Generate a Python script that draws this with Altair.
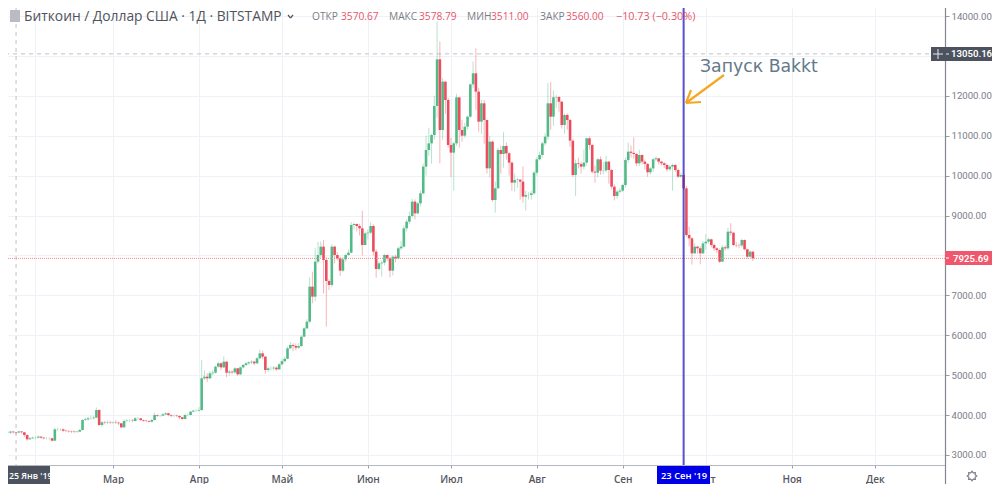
import math
import altair as alt
import pandas as pd

# ---------- values (day number in 2019, 0 = 1 Jan) ----------
first_day = 21
closes = [
    3559, 3584, 3570, 3560, 3585, 3567, 3500, 3392, 3417, 3433,
    3433, 3458, 3433, 3417, 3417, 3417, 3358, 3642, 3642, 3642,
    3609, 3600, 3592, 3584, 3575, 3584, 3625, 3876, 3892, 3918,
    3918, 3935, 4127, 3751, 3817, 3809, 3817, 3809, 3817, 3809,
    3793, 3692, 3851, 3859, 3859, 3851, 3918, 3918, 3876, 3859,
    3851, 3834, 3876, 4001, 3985, 3985, 4018, 4043, 4001, 3985,
    3985, 3976, 3943, 3901, 4001, 4001, 4085, 4110, 4110, 4127,
    4920, 4961, 4920, 5045, 5062, 5212, 5296, 5195, 5337, 5062,
    5087, 5070, 5170, 5020, 5195, 5254, 5296, 5321, 5337, 5296,
    5421, 5546, 5463, 5129, 5170, 5170, 5187, 5145, 5271, 5350,
    5410, 5672, 5755, 5730, 5689, 5730, 5964, 6173, 6340, 7217,
    6967, 7844, 8011, 8220, 7885, 7359, 7259, 8220, 8011, 7927,
    7618, 7902, 8011, 8069, 8762, 8788, 8737, 8679, 8261, 8554,
    8570, 8737, 8094, 7660, 7802, 7819, 8011, 7927, 7618, 7969,
    7927, 8178, 8220, 8679, 8846, 8988, 9348, 9055, 9306, 9556,
    10225, 10642, 10809, 11018, 11745, 12914, 11143, 12355, 11895, 10768,
    10576, 10809, 11962, 11143, 11001, 11227, 11478, 12288, 12564, 12104,
    11352, 11812, 11394, 10183, 10851, 9389, 9682, 10642, 10542, 10743,
    10559, 10325, 9824, 9891, 9900, 9850, 9473, 9515, 9515, 9556,
    10074, 10408, 10517, 10809, 10976, 11812, 11478, 11962, 11970, 11852,
    11269, 11519, 11394, 10876, 10016, 10308, 10290, 10225, 10325, 10935,
    10768, 10099, 10075, 10408, 10125, 10130, 10350, 10141, 9723, 9490,
    9598, 9623, 9765, 10392, 10600, 10570, 10542, 10308, 10517, 10350,
    10292, 10083, 10180, 10408, 10433, 10350, 10308, 10266, 10158, 10225,
    10266, 10141, 9974, 10016, 9682, 8512, 8428, 8052, 8220, 8180,
    8052, 8303, 8345, 8403, 8261, 8178, 8136, 7844, 8203, 8178,
    8595, 8570, 8261, 8255, 8250, 8386, 8153, 7969, 8093, 7926,
]
highs = [
    3620, 3610, 3600, 3579, 3610, 3600, 3570, 3510, 3450, 3460,
    3470, 3490, 3470, 3445, 3450, 3440, 3430, 3680, 3680, 3670,
    3660, 3630, 3620, 3610, 3610, 3610, 3650, 3900, 3940, 3960,
    3980, 3980, 4190, 4150, 3850, 3850, 3860, 3860, 3840, 3870,
    3830, 3800, 3890, 3900, 3900, 3900, 3950, 3950, 3920, 3890,
    3880, 3870, 3900, 4060, 4020, 4010, 4050, 4070, 4060, 4020,
    4010, 4010, 3990, 3950, 4030, 4040, 4100, 4130, 4150, 4200,
    5380, 5120, 5050, 5100, 5130, 5240, 5340, 5320, 5470, 5350,
    5130, 5120, 5200, 5180, 5220, 5280, 5330, 5350, 5370, 5360,
    5450, 5640, 5610, 5480, 5210, 5220, 5230, 5220, 5300, 5400,
    5460, 5720, 5830, 5800, 5790, 5800, 6000, 6200, 6400, 7450,
    7590, 8180, 8340, 8350, 8390, 7950, 7400, 8280, 8250, 8080,
    7970, 7960, 8050, 8150, 8830, 8820, 8800, 8790, 9120, 8600,
    8650, 8830, 8780, 8150, 7850, 7870, 8040, 8030, 7960, 8000,
    8020, 8220, 8360, 8750, 8900, 9100, 9420, 9400, 9340, 9620,
    10300, 11000, 11200, 11050, 12000, 13860, 13360, 12450, 12360, 11950,
    10950, 10850, 12050, 11950, 11400, 11320, 11500, 12300, 12860, 13190,
    12200, 11900, 11900, 11400, 11000, 10880, 9850, 10700, 10750, 11090,
    10830, 10600, 10350, 10050, 9950, 9900, 10230, 9620, 9580, 9620,
    10120, 10460, 10600, 10850, 11060, 12320, 12340, 12130, 12020, 11990,
    11870, 11560, 11560, 11420, 10900, 10400, 10450, 10350, 10650, 10960,
    10980, 10800, 10250, 10450, 10480, 10340, 10500, 10370, 10160, 9780,
    9640, 9680, 9800, 10450, 10830, 10750, 10960, 10560, 10650, 10530,
    10400, 10320, 10220, 10440, 10480, 10440, 10370, 10340, 10300, 10260,
    10300, 10300, 10180, 10070, 10060, 9740, 8720, 8460, 8300, 8240,
    8240, 8360, 8530, 8450, 8420, 8300, 8200, 8170, 8260, 8250,
    8690, 8810, 8580, 8330, 8300, 8420, 8400, 8170, 8130, 8110,
]
lows = [
    3520, 3530, 3530, 3511, 3540, 3530, 3440, 3360, 3380, 3400,
    3390, 3420, 3410, 3390, 3390, 3380, 3340, 3350, 3600, 3600,
    3570, 3570, 3560, 3550, 3550, 3550, 3570, 3610, 3850, 3860,
    3880, 3890, 3920, 3720, 3700, 3770, 3770, 3780, 3780, 3780,
    3750, 3670, 3680, 3820, 3820, 3820, 3840, 3880, 3850, 3830,
    3820, 3810, 3820, 3860, 3950, 3950, 3970, 4000, 3970, 3950,
    3950, 3940, 3900, 3870, 3890, 3970, 3990, 4070, 4080, 4090,
    4100, 4880, 4830, 4900, 5000, 5040, 5190, 5130, 5180, 4950,
    4990, 5020, 5040, 4980, 5000, 5170, 5230, 5260, 5280, 5250,
    5270, 5400, 5400, 5040, 5080, 5120, 5120, 5110, 5130, 5240,
    5320, 5400, 5650, 5600, 5620, 5660, 5700, 5950, 6150, 6300,
    6800, 6850, 7800, 7950, 7050, 6215, 7130, 7200, 7800, 7870,
    7485, 7580, 7840, 7990, 8050, 8650, 8600, 8500, 8000, 8250,
    8400, 8530, 8000, 7440, 7620, 7470, 7750, 7860, 7450, 7500,
    7830, 7900, 8130, 8200, 8600, 8780, 8950, 8900, 9030, 9230,
    9530, 10000, 10500, 10300, 10900, 11450, 10310, 10900, 11550, 10700,
    9960, 9620, 10750, 10700, 10850, 10950, 11150, 11450, 12200, 11650,
    11100, 11050, 10800, 10050, 9950, 9350, 9072, 9660, 10050, 10200,
    10400, 10000, 9620, 9600, 9700, 9400, 9320, 9122, 9400, 9400,
    9520, 10000, 10380, 10450, 10750, 10900, 11150, 11250, 11700, 11600,
    11180, 11050, 11150, 10720, 9960, 9490, 10180, 10050, 10150, 10250,
    10650, 10050, 9820, 9950, 10020, 10030, 10080, 9800, 9650, 9380,
    9420, 9560, 9590, 9700, 10320, 10450, 10430, 10240, 10240, 10280,
    10150, 9970, 10020, 10100, 10360, 10280, 10250, 10190, 10100, 10120,
    9623, 10090, 9940, 9950, 9620, 8470, 8230, 7770, 8030, 8040,
    7780, 8040, 8140, 8290, 8200, 8110, 8060, 7810, 7830, 8120,
    8140, 8500, 8230, 8200, 8190, 8200, 8130, 7920, 7950, 7860,
]
first_open = 3550

month_days = [31, 59, 90, 120, 151, 181, 212, 243, 273, 304, 334]
month_names = ["", "Мар", "Апр", "Май", "Июн", "Июл", "Авг", "Сен", "Окт", "Ноя", "Дек"]
price_ticks = [3000, 4000, 5000, 6000, 7000, 8000, 9000, 10000, 11000, 12000, 13000, 14000]

cursor_day = 24
cursor_price = 13050.16
last_price = 7925.69
launch_day = 265

assert len(closes) == len(highs) == len(lows)

days = list(range(first_day, first_day + len(closes)))
opens = [first_open] + closes[:-1]
df = pd.DataFrame({"d": days, "o": opens, "c": closes, "h": highs, "l": lows})
df["up"] = df["c"] >= df["o"]

GREEN, RED = "#53b987", "#eb4d5c"
FONT = "Open Sans"
PW, PH = 937, 457
xs = alt.Scale(domain=[21.09, 359.36], nice=False, zero=False, padding=0)
ys = alt.Scale(domain=[2748, 14200.5], nice=False, zero=False)
color = alt.Color("up:N", scale=alt.Scale(domain=[True, False], range=[GREEN, RED]), legend=None)

label_map = "{" + ",".join(f"{d}:'{n}'" for d, n in zip(month_days, month_names)) + "}"
x_axis = alt.Axis(values=month_days, labelExpr=label_map + "[datum.value]", title=None, grid=True,
                  gridColor="#eef2f7", domain=False, tickColor="#9a9da6", tickSize=3, labelFont=FONT,
                  labelFontSize=10, labelColor="#55585f", labelPadding=6, labelFontWeight=600)
y_axis = alt.Axis(values=price_ticks, orient="right", title=None, grid=True,
                  labelExpr="datum.value == 13000 || datum.value == 8000 ? '' : format(datum.value, '.2f')",
                  gridColor="#eef2f7", domain=False, tickColor="#9a9da6", tickSize=4, labelFont="Roboto",
                  labelFontSize=9.6, labelColor="#7a7d88", labelPadding=2)

one = pd.DataFrame({"k": [0]})


def X(field):
    return alt.X(field, scale=xs, axis=x_axis)


def Y(field):
    return alt.Y(field, scale=ys, axis=y_axis)


def rx(v):
    return v - 8


def ry(v):
    return v - 8


def box(x0, x1, y0, y1, col):
    return alt.Chart(one).mark_rect(color=col).encode(
        x=alt.value(rx(x0)), x2=alt.value(rx(x1)), y=alt.value(ry(y0)), y2=alt.value(ry(y1)))


def label(txt, x, y, col, size, anchor="left", weight=400, font=FONT):
    return alt.Chart(pd.DataFrame({"t": [txt]})).mark_text(
        color=col, fontSize=size, align=anchor, baseline="middle", fontWeight=weight, font=font
    ).encode(x=alt.value(rx(x)), y=alt.value(ry(y)), text="t:N")


def seg(x0, x1, y0, y1, col, w=1.0):
    return alt.Chart(one).mark_rule(color=col, strokeWidth=w).encode(
        x=alt.value(rx(x0)), x2=alt.value(rx(x1)), y=alt.value(ry(y0)), y2=alt.value(ry(y1)))


cross_h = alt.Chart(pd.DataFrame({"p": [cursor_price]})).mark_rule(
    color="#c0c2c7", strokeDash=[4, 4], strokeWidth=1).encode(y=Y("p:Q"))
cross_v = alt.Chart(pd.DataFrame({"d": [cursor_day]})).mark_rule(
    color="#c0c2c7", strokeDash=[4, 4], strokeWidth=1).encode(x=X("d:Q"))

wicks = alt.Chart(df).mark_rule(strokeWidth=1, opacity=0.42).encode(
    x=X("d:Q"), y=Y("l:Q"), y2="h:Q", color=color)
bodies = alt.Chart(df).mark_bar(size=2.6).encode(
    x=X("d:Q"), y=Y("o:Q"), y2="c:Q", color=color)

last_line = alt.Chart(pd.DataFrame({"p": [last_price]})).mark_rule(
    color="#f08a95", strokeDash=[1, 1], strokeWidth=1).encode(y=Y("p:Q"))
launch_line = alt.Chart(pd.DataFrame({"d": [launch_day]})).mark_rule(
    color="#3c33c4", strokeWidth=2, opacity=0.85).encode(x=X("d:Q"))

# arrow
orange = "#f5a623"
arrow = [seg(724, 686, 75, 103, orange, 2.2), seg(686, 691, 103, 90, orange, 2.2), seg(686, 701, 103, 102, orange, 2.2)]

# chrome
chrome = [
    seg(8, 945, 465.5, 465.5, "#b5b8c0", 1),
    seg(945.5, 945.5, 8, 484, "#83868f", 1.2),
    box(8, 50, 466, 484, "#4c525e"),
    box(657, 710, 466, 484, "#0000e6"),
    box(931, 992, 47, 61, "#4c525e"),
    box(945, 992, 251, 265, "#f0566c"),
    seg(933, 943, 54, 54, "#e8e9ec", 1),
    seg(938, 938, 49, 59, "#e8e9ec", 1),
    seg(946, 949, 54, 54, "#e8e9ec", 1),
    seg(946, 949, 258, 258, "#ffffff", 1),
    label("25 Янв '19", 9, 475.5, "#ffffff", 8.8, weight=600),
    label("23 Сен '19", 661, 475.5, "#ffffff", 9.4, weight=600),
    label("13050.16", 951, 54, "#ffffff", 9.6, weight=600, font="Roboto"),
    label("7925.69", 953, 258.5, "#ffffff", 9.6, weight=600, font="Roboto"),
    label("Запуск Bakkt", 700, 67, "#64798a", 17.3, font="DejaVu Sans"),
]

# header
HDR_Y = 17
GRAY, PINK = "#7b7e88", "#e5566d"
header = [
    box(10, 20, 10, 22, "#b9bcc2"),
    label("Биткоин / Доллар США · 1Д · BITSTAMP", 24, HDR_Y, "#50535b", 13.8),
    label("ОТКР", 312, HDR_Y, GRAY, 10.2), label("3570.67", 341, HDR_Y, PINK, 10.2),
    label("МАКС", 389, HDR_Y, GRAY, 10.2), label("3578.79", 419, HDR_Y, PINK, 10.2),
    label("МИН", 467, HDR_Y, GRAY, 10.2), label("3511.00", 491, HDR_Y, PINK, 10.2),
    label("ЗАКР", 540, HDR_Y, GRAY, 10.2), label("3560.00", 566, HDR_Y, PINK, 10.2),
    label("−10.73 (−0.30%)", 616, HDR_Y, PINK, 10.8),
    seg(288, 290.5, 15, 18, "#50535b", 1.2), seg(290.5, 293, 18, 15, "#50535b", 1.2),
]

# gear icon
pts = []
for i in range(16):
    r = 1.0 if i % 2 == 0 else 0.72
    a = i * math.pi / 8
    pts.append(f"{r * math.cos(a):.3f},{r * math.sin(a):.3f}")
gear_path = "M" + "L".join(pts) + "Z"
gear = alt.Chart(one).mark_point(shape=gear_path, filled=False, color="#4a4d55", size=90, strokeWidth=1.2).encode(
    x=alt.value(rx(972)), y=alt.value(ry(476)))

chart = alt.layer(
    cross_h, cross_v, wicks, bodies, last_line, launch_line, *arrow, *chrome, *header, gear
).resolve_scale(x="shared", y="shared", color="shared").properties(
    width=PW, height=PH,
    autosize=alt.AutoSizeParams(type="none"),
    padding={"left": 0, "top": 0, "right": 47, "bottom": 19},
    background="white",
).configure_view(strokeWidth=0)

chart.save("out.html", embed_options={"renderer": "svg", "actions": False})
